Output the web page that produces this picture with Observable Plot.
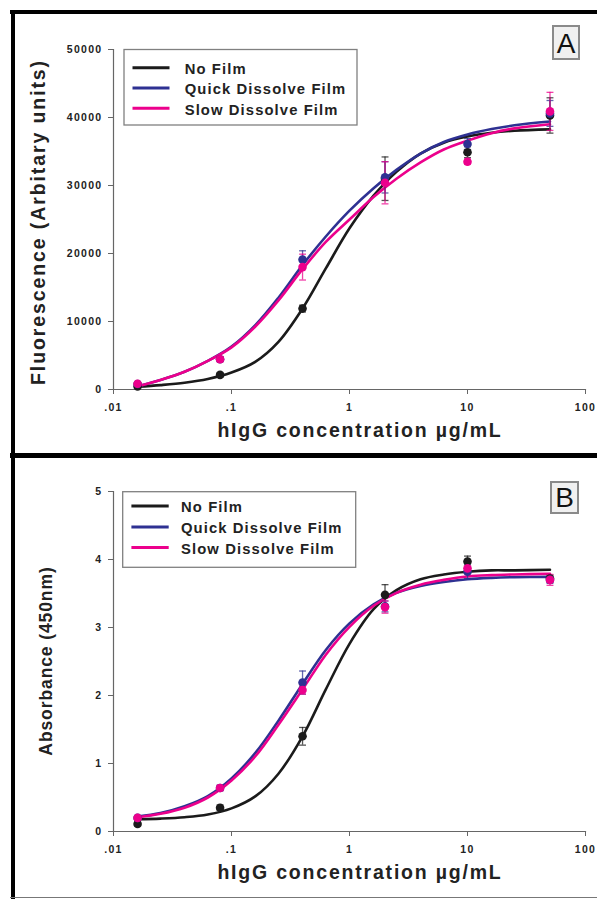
<!DOCTYPE html>
<html><head><meta charset="utf-8">
<script src="https://cdn.jsdelivr.net/npm/d3@7"></script>
<script src="https://cdn.jsdelivr.net/npm/@observablehq/plot@0.6"></script>
<style>
body{margin:0;background:#fff}
#wrap{position:relative;width:597px;height:899px;overflow:hidden;background:#fff;font-family:'Liberation Sans',Arial,sans-serif}
#wrap > svg{position:absolute;left:0}
.pnl text{letter-spacing:1.3px}
.bar{position:absolute;background:#000}
</style></head><body><div id="wrap"></div>
<script>
// ---------- data ----------
const conc = [0.016, 0.08, 0.4, 2, 10, 50];
const seriesNames = ["No Film", "Quick Dissolve Film", "Slow Dissolve Film"];
const seriesColors = ["#1b1b1b", "#2e3192", "#ec008c"];
const xTicks = [0.01, 0.1, 1, 10, 100];
const xTickLabels = [".01", ".1", "1", "10", "100"];
const fluoTicks = [0, 10000, 20000, 30000, 40000, 50000];
const absTicks = [0, 1, 2, 3, 4, 5];

// Panel A: fluorescence means and error (+/-)
const fluoNoFilm = [450, 2150, 11900, 31000, 34900, 40300];
const fluoQuick  = [800, 4450, 19100, 31200, 36100, 40600];
const fluoSlow   = [850, 4450, 18000, 30400, 33500, 40900];
const fluoErrNoFilm = [150, 300, 500, 3200, 800, 2600];
const fluoErrQuick  = [200, 300, 1300, 2300, 800, 1900];
const fluoErrSlow   = [200, 400, 1900, 3100, 400, 2800];

// Panel B: absorbance means and error (+/-)
const absNoFilm = [0.11, 0.35, 1.40, 3.48, 3.97, 3.72];
const absQuick  = [0.20, 0.64, 2.19, 3.31, 3.82, 3.70];
const absSlow   = [0.20, 0.64, 2.08, 3.30, 3.87, 3.70];
const absErrNoFilm = [0.03, 0.04, 0.13, 0.15, 0.08, 0.05];
const absErrQuick  = [0.03, 0.04, 0.17, 0.08, 0.10, 0.05];
const absErrSlow   = [0.03, 0.04, 0.06, 0.09, 0.08, 0.08];

// fitted curves
const curveConc = [0.016,0.025,0.04,0.063,0.1,0.16,0.25,0.4,0.63,1,1.6,2.5,4,6.3,10,16,25,50];
const fluoFitNoFilm = [400,650,1000,1550,2500,4100,7000,11900,17800,23700,28500,32000,34700,36300,37200,37750,38050,38250];
const fluoFitQuick  = [470,1400,2600,4200,6300,9500,13500,18300,22500,26300,29600,32300,34700,36400,37500,38300,38850,39400];
const fluoFitSlow   = [470,1400,2600,4200,6200,9300,13100,17700,21700,25000,28300,31000,33400,35300,36600,37700,38400,39000];
const absFitNoFilm = [0.18,0.19,0.21,0.25,0.34,0.52,0.85,1.40,2.09,2.76,3.27,3.55,3.71,3.78,3.82,3.84,3.84,3.85];
const absFitQuick  = [0.22,0.27,0.37,0.52,0.78,1.16,1.63,2.17,2.67,3.06,3.34,3.51,3.61,3.67,3.71,3.73,3.74,3.745];
const absFitSlow   = [0.21,0.26,0.35,0.50,0.75,1.11,1.57,2.09,2.60,3.01,3.32,3.51,3.63,3.70,3.75,3.77,3.78,3.79];

// ---------- helpers ----------
function pts(vals, errs, s){ return conc.map((c,i)=>({series:s, c, v:vals[i], e:errs[i]})); }
function fit(vals, s){ return curveConc.map((c,i)=>({series:s, c, v:vals[i]})); }

const FONT = "'Liberation Sans', Arial, sans-serif";
const capF = 1.07;

function panel({points, curves, yDomain, yTicks, height, marginTop, marginBottom}){
  const marks = [];
  marks.push(Plot.axisY(yTicks, {tickSize:5, tickPadding:6, fontSize:10.5, fontWeight:"bold", label:null, stroke:"#666", fill:"#222", tickFormat:d=>String(d)}));
  marks.push(Plot.axisX(xTicks, {tickSize:5, tickPadding:9, fontSize:10.5, fontWeight:"bold", label:null, stroke:"#666", fill:"#222", tickFormat:d=>xTickLabels[xTicks.indexOf(d)]}));
  marks.push(Plot.frame({anchor:"left", stroke:"#666", strokeWidth:1.2}));
  marks.push(Plot.frame({anchor:"bottom", stroke:"#666", strokeWidth:1.2}));
  curves.forEach(cv => marks.push(Plot.line(cv, {x:"c", y:"v", stroke:"series", strokeWidth:2.6, curve:"catmull-rom"})));
  points.forEach(p => {
    marks.push(Plot.ruleX(p, {x:"c", y1:d=>d.v-d.e, y2:d=>d.v+d.e, stroke:"series", strokeWidth:1.3, strokeOpacity:0.75}));
    marks.push(Plot.link(p, {x1:d=>d.c/capF, x2:d=>d.c*capF, y1:d=>d.v+d.e, y2:d=>d.v+d.e, stroke:"series", strokeWidth:1.3, strokeOpacity:0.75}));
    marks.push(Plot.link(p, {x1:d=>d.c/capF, x2:d=>d.c*capF, y1:d=>d.v-d.e, y2:d=>d.v-d.e, stroke:"series", strokeWidth:1.3, strokeOpacity:0.75}));
  });
  points.forEach(p => marks.push(Plot.dot(p, {x:"c", y:"v", r:4.3, fill:"series"})));
  return Plot.plot({
    width:597, height, marginLeft:113, marginRight:12, marginTop, marginBottom,
    className:"pnl",
    style:{fontFamily:FONT, background:"transparent", overflow:"visible"},
    x:{type:"log", domain:[0.01,100], axis:null},
    y:{domain:yDomain, axis:null},
    color:{domain:seriesNames, range:seriesColors},
    marks
  });
}

const wrap = document.getElementById("wrap");

const A = panel({
  points:[pts(fluoNoFilm,fluoErrNoFilm,seriesNames[0]), pts(fluoQuick,fluoErrQuick,seriesNames[1]), pts(fluoSlow,fluoErrSlow,seriesNames[2])],
  curves:[fit(fluoFitNoFilm,seriesNames[0]), fit(fluoFitQuick,seriesNames[1]), fit(fluoFitSlow,seriesNames[2])],
  yDomain:[0,50000], yTicks:fluoTicks, height:455, marginTop:49, marginBottom:66
});
A.style.top = "0px";
wrap.appendChild(A);

const B = panel({
  points:[pts(absNoFilm,absErrNoFilm,seriesNames[0]), pts(absQuick,absErrQuick,seriesNames[1]), pts(absSlow,absErrSlow,seriesNames[2])],
  curves:[fit(absFitNoFilm,seriesNames[0]), fit(absFitQuick,seriesNames[1]), fit(absFitSlow,seriesNames[2])],
  yDomain:[0,5], yTicks:absTicks, height:444, marginTop:36, marginBottom:68
});
B.style.top = "455px";
wrap.appendChild(B);

// ---------- frame bars ----------
function bar(l,t,w,h,c){ const d=document.createElement("div"); d.className="bar"; Object.assign(d.style,{left:l+"px",top:t+"px",width:w+"px",height:h+"px",background:c||"#000"}); wrap.appendChild(d); }
bar(10,9.5,587,4.5);
bar(10.5,9.5,4.5,889.5);
bar(10,453,587,4.5);
bar(10,896.5,587,1.5,"#777");

// ---------- overlay text, legends, panel letters ----------
const ov = d3.select(wrap).append("svg").attr("width",597).attr("height",899).style("top","0px").style("font-family",FONT);

function titles(yOff, yTitle, yCenter, yTitleX, yTitleSize, yTitleLS){
  ov.append("text").attr("x",360).attr("y",yOff).attr("text-anchor","middle")
    .attr("font-size",19.5).attr("font-weight","bold").attr("letter-spacing","1.8px").attr("fill","#222")
    .text("hIgG concentration µg/mL");
  ov.append("text").attr("transform",`translate(${yTitleX},${yCenter}) rotate(-90)`).attr("text-anchor","middle")
    .attr("font-size",yTitleSize).attr("font-weight","bold").attr("letter-spacing",yTitleLS+"px").attr("fill","#222")
    .text(yTitle);
}
titles(437, "Fluorescence (Arbitary units)", 222, 45, 19.5, 1.9);
titles(879, "Absorbance (450nm)", 661, 51.5, 17.5, 0.9);

function legend(x0,y0,w,h,lineX1,lineX2,textX,rowY){
  ov.append("rect").attr("x",x0).attr("y",y0).attr("width",w).attr("height",h).attr("fill","#fff").attr("stroke","#808080").attr("stroke-width",1.3);
  seriesNames.forEach((s,i)=>{
    ov.append("line").attr("x1",lineX1).attr("x2",lineX2).attr("y1",rowY[i]).attr("y2",rowY[i]).attr("stroke",seriesColors[i]).attr("stroke-width",3);
    ov.append("text").attr("x",textX).attr("y",rowY[i]+6.3).attr("font-size",14.8).attr("font-weight","bold").attr("letter-spacing","1.1px").attr("fill","#222").text(s);
  });
}
legend(124,49.5,233,75.5,132.5,169.5,184.7,[67.8,88,108.3]);
legend(122.7,491.7,233,75.6,131.4,168.7,181,[506,527,547.6]);

function letterBox(x,y,w,h,t){
  ov.append("rect").attr("x",x).attr("y",y).attr("width",w).attr("height",h).attr("fill","#f0f0f0").attr("stroke","#8a8a8a").attr("stroke-width",2);
  ov.append("text").attr("x",x+w/2).attr("y",y+h-6).attr("text-anchor","middle").attr("font-size",28).attr("fill","#111").text(t);
}
letterBox(553,26,26,33,"A");
letterBox(551,482,27,31,"B");
</script></body></html>
